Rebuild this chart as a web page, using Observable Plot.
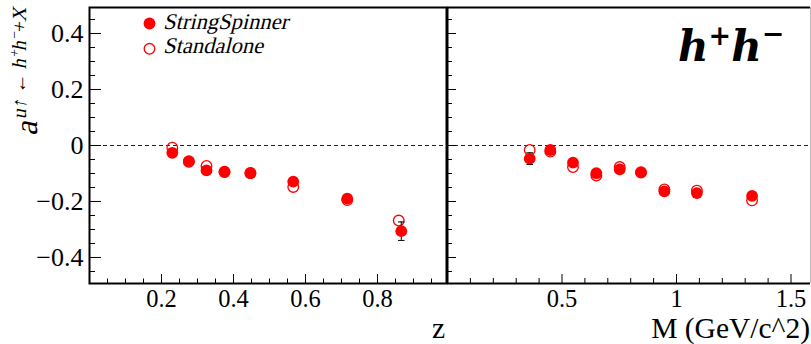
<!DOCTYPE html>
<html><head><meta charset="utf-8">
<script src="https://cdn.jsdelivr.net/npm/d3@7"></script>
<script src="https://cdn.jsdelivr.net/npm/@observablehq/plot@0.6"></script>
<style>
body{margin:0;background:#fff;}
#chart{position:relative;width:811px;height:344px;overflow:hidden;background:#fff;}
#chart svg{position:absolute;top:0;overflow:visible;}
</style></head><body><div id="chart"></div>
<script>
// ---- data: left panel (z) ----
const zStringSpinnerX = [0.230, 0.276, 0.325, 0.375, 0.447, 0.566, 0.716, 0.866];
const zStringSpinnerY = [-0.026, -0.058, -0.089, -0.095, -0.099, -0.129, -0.190, -0.306];
const zStringSpinnerErr = [0.006, 0.006, 0.006, 0.007, 0.007, 0.009, 0.012, 0.033];
const zStandaloneX = [0.230, 0.276, 0.325, 0.375, 0.447, 0.566, 0.716, 0.859];
const zStandaloneY = [-0.008, -0.056, -0.073, -0.094, -0.098, -0.148, -0.195, -0.268];
// ---- data: right panel (M) ----
const mStringSpinnerX = [0.359, 0.449, 0.548, 0.650, 0.752, 0.845, 0.947, 1.089, 1.330];
const mStringSpinnerY = [-0.047, -0.016, -0.061, -0.099, -0.085, -0.095, -0.164, -0.170, -0.180];
const mStringSpinnerErr = [0.021, 0.006, 0.006, 0.006, 0.006, 0.007, 0.008, 0.009, 0.010];
const mStandaloneX = [0.359, 0.449, 0.548, 0.650, 0.752, 0.845, 0.947, 1.089, 1.330];
const mStandaloneY = [-0.016, -0.022, -0.077, -0.107, -0.077, -0.097, -0.157, -0.161, -0.196];
// ---- labels / ticks ----
const legendLabels = ["StringSpinner", "Standalone"];
const yMajorTicks = [-0.4, -0.2, 0, 0.2, 0.4];
const yMinorTicks = [-0.45, -0.35, -0.3, -0.25, -0.15, -0.1, -0.05, 0.05, 0.1, 0.15, 0.25, 0.3, 0.35, 0.45];
const zMajorTicks = [0.2, 0.4, 0.6, 0.8];
const zMinorTicks = [0.05, 0.1, 0.15, 0.25, 0.3, 0.35, 0.45, 0.5, 0.55, 0.65, 0.7, 0.75, 0.85, 0.9, 0.95];
const mMajorTicks = [0.5, 1, 1.5];
const mMinorTicks = [0.1, 0.2, 0.3, 0.4, 0.6, 0.7, 0.8, 0.9, 1.1, 1.2, 1.3, 1.4];
const xTitles = ["z", "M (GeV/c^2)"];

const RED = "#ff0000";
const SERIF = "Liberation Serif";
const H = 344, MT = 7, MB = 61, FH = H - MT - MB;
const yDomain = [-0.4929, 0.4929];
const fmt = d => d === 0 ? "0" : d3.format(".1f")(d);
const capSymbol = {draw(ctx, size) { const w = Math.sqrt(size / Math.PI); ctx.moveTo(-w, 0); ctx.lineTo(w, 0); }};

function rows(xs, ys, es) { return xs.map((x, i) => ({x, y: ys[i], e: es ? es[i] : 0})); }

function panel({width, ml, mr, xDomain, majors, minors, yMajLen, yMinLen, xMajLen, xMinLen, filled, open, showY, extra}) {
  const FW = width - ml - mr;
  return Plot.plot({
    width, height: H, marginLeft: ml, marginRight: mr, marginTop: MT, marginBottom: MB,
    x: {domain: xDomain}, y: {domain: yDomain, axis: showY ? undefined : null},
    style: {fontSize: "24px", color: "#000", background: "transparent", overflow: "visible"},
    marks: [
      Plot.ruleY([0], {stroke: "#222", strokeDasharray: "4,3", strokeWidth: 1}),
      Plot.ruleY(yMajorTicks, {y: d => d, insetRight: FW - yMajLen, stroke: "#000"}),
      Plot.ruleY(yMinorTicks, {y: d => d, insetRight: FW - yMinLen, stroke: "#000"}),
      Plot.ruleX(majors, {x: d => d, insetTop: FH - xMajLen, stroke: "#000"}),
      Plot.ruleX(minors, {x: d => d, insetTop: FH - xMinLen, stroke: "#000"}),
      showY ? Plot.axisY({ticks: yMajorTicks, tickSize: 0, tickPadding: 6, tickFormat: fmt, fontSize: 26, label: null}) : null,
      Plot.axisX({ticks: majors, tickSize: 0, tickPadding: 6, tickFormat: d => String(d), fontSize: 24.5, label: null}),
      Plot.dot(open, {x: "x", y: "y", r: 5.3, stroke: RED, strokeWidth: 1.3, fill: "none"}),
      Plot.ruleX(filled, {x: "x", y1: d => d.y - d.e, y2: d => d.y + d.e, stroke: "#000", strokeWidth: 1}),
      Plot.dot(filled, {x: "x", y: d => d.y - d.e, symbol: capSymbol, r: 3.3, stroke: "#000", strokeWidth: 1}),
      Plot.dot(filled, {x: "x", y: d => d.y + d.e, symbol: capSymbol, r: 3.3, stroke: "#000", strokeWidth: 1}),
      Plot.dot(filled, {x: "x", y: "y", r: 5.9, fill: RED, stroke: "none"}),
      ...(extra || [])
    ]
  });
}

const leftSvg = panel({
  width: 446, ml: 89, mr: 0, xDomain: [0, 357 / 360],
  majors: zMajorTicks, minors: zMinorTicks, yMajLen: 12, yMinLen: 6, xMajLen: 9, xMinLen: 4.5,
  filled: rows(zStringSpinnerX, zStringSpinnerY, zStringSpinnerErr),
  open: rows(zStandaloneX, zStandaloneY), showY: true,
  extra: [
    Plot.frame({stroke: "#000", strokeWidth: 2}),
    Plot.dot([legendLabels[0]], {frameAnchor: "top-left", dx: 60, dy: 16, r: 5.9, fill: RED}),
    Plot.dot([legendLabels[1]], {frameAnchor: "top-left", dx: 60, dy: 41.3, r: 5.3, stroke: RED, strokeWidth: 1.3, fill: "none"})
  ]
});

const mMax = 363 / 229;
const rightSvg = panel({
  width: 365, ml: 1, mr: 1, xDomain: [0, mMax],
  majors: mMajorTicks, minors: mMinorTicks, yMajLen: 9, yMinLen: 5, xMajLen: 9, xMinLen: 5,
  filled: rows(mStringSpinnerX, mStringSpinnerY, mStringSpinnerErr),
  open: rows(mStandaloneX, mStandaloneY), showY: false,
  extra: [
    Plot.ruleX([mMax], {stroke: "#bbb", strokeWidth: 1}),
    Plot.ruleY([yDomain[1]], {stroke: "#000", strokeWidth: 2}),
    Plot.ruleY([yDomain[0]], {stroke: "#000", strokeWidth: 2}),
    Plot.ruleX([0], {stroke: "#000", strokeWidth: 2})
  ]
});

// serif font on every text the library produced
for (const svg of [leftSvg, rightSvg]) {
  d3.select(svg).attr("font-family", SERIF).style("font-family", SERIF);
  d3.select(svg).selectAll("g, text, tspan").attr("font-family", SERIF).style("font-family", SERIF).style("font-variant", "normal");
}

const chart = document.getElementById("chart");
leftSvg.style.left = "0px";
rightSvg.style.left = "446px";
chart.appendChild(leftSvg);
chart.appendChild(rightSvg);

// legend texts (slanted serif, like the reference's Times italic)
const SLANT = "skewX(-14)";
[[legendLabels[0], 28.5], [legendLabels[1], 52.5]].forEach(([t, y]) => {
  d3.select(leftSvg).append("text")
    .attr("transform", `translate(163,${y}) ${SLANT}`)
    .attr("font-family", SERIF).attr("font-size", 22.5)
    .attr("text-anchor", "start").attr("fill", "#000").text(t);
});

// axis titles
d3.select(leftSvg).append("text")
  .attr("x", 445).attr("y", 337.5).attr("text-anchor", "end")
  .attr("font-family", SERIF).attr("font-size", 29.5).text(xTitles[0]);
d3.select(rightSvg).append("text")
  .attr("x", 364).attr("y", 337.5).attr("text-anchor", "end")
  .attr("font-family", SERIF).attr("font-size", 29.5).text(xTitles[1]);

// y title: a^{u↑ ← h+h−+X}
const yt = d3.select(leftSvg).append("text")
  .attr("transform", "translate(37,10) rotate(-90) skewX(-12)")
  .attr("text-anchor", "end").attr("font-family", SERIF).attr("fill", "#000");
yt.append("tspan").attr("font-size", 32).text("a");
yt.append("tspan").attr("font-size", 20).attr("dy", -11).text("u");
yt.append("tspan").attr("font-size", 20).text("↑ ← ");
yt.append("tspan").attr("font-size", 20).text("h");
yt.append("tspan").attr("font-size", 14).attr("dy", -7).text("+");
yt.append("tspan").attr("font-size", 20).attr("dy", 7).text("h");
yt.append("tspan").attr("font-size", 14).attr("dy", -7).text("−");
yt.append("tspan").attr("font-size", 20).attr("dy", 7).text("+X");

// title h+h−
const tt = d3.select(rightSvg).append("text")
  .attr("x", 232).attr("y", 61).attr("text-anchor", "start")
  .attr("font-family", "DejaVu Serif").attr("font-weight", "bold").attr("font-style", "italic").attr("fill", "#000");
tt.append("tspan").attr("font-size", 42).text("h");
tt.append("tspan").attr("font-size", 27).attr("dy", -16).text("+");
tt.append("tspan").attr("font-size", 42).attr("dy", 16).text("h");
tt.append("tspan").attr("font-size", 27).attr("dy", -18).text("−");
</script></body></html>
